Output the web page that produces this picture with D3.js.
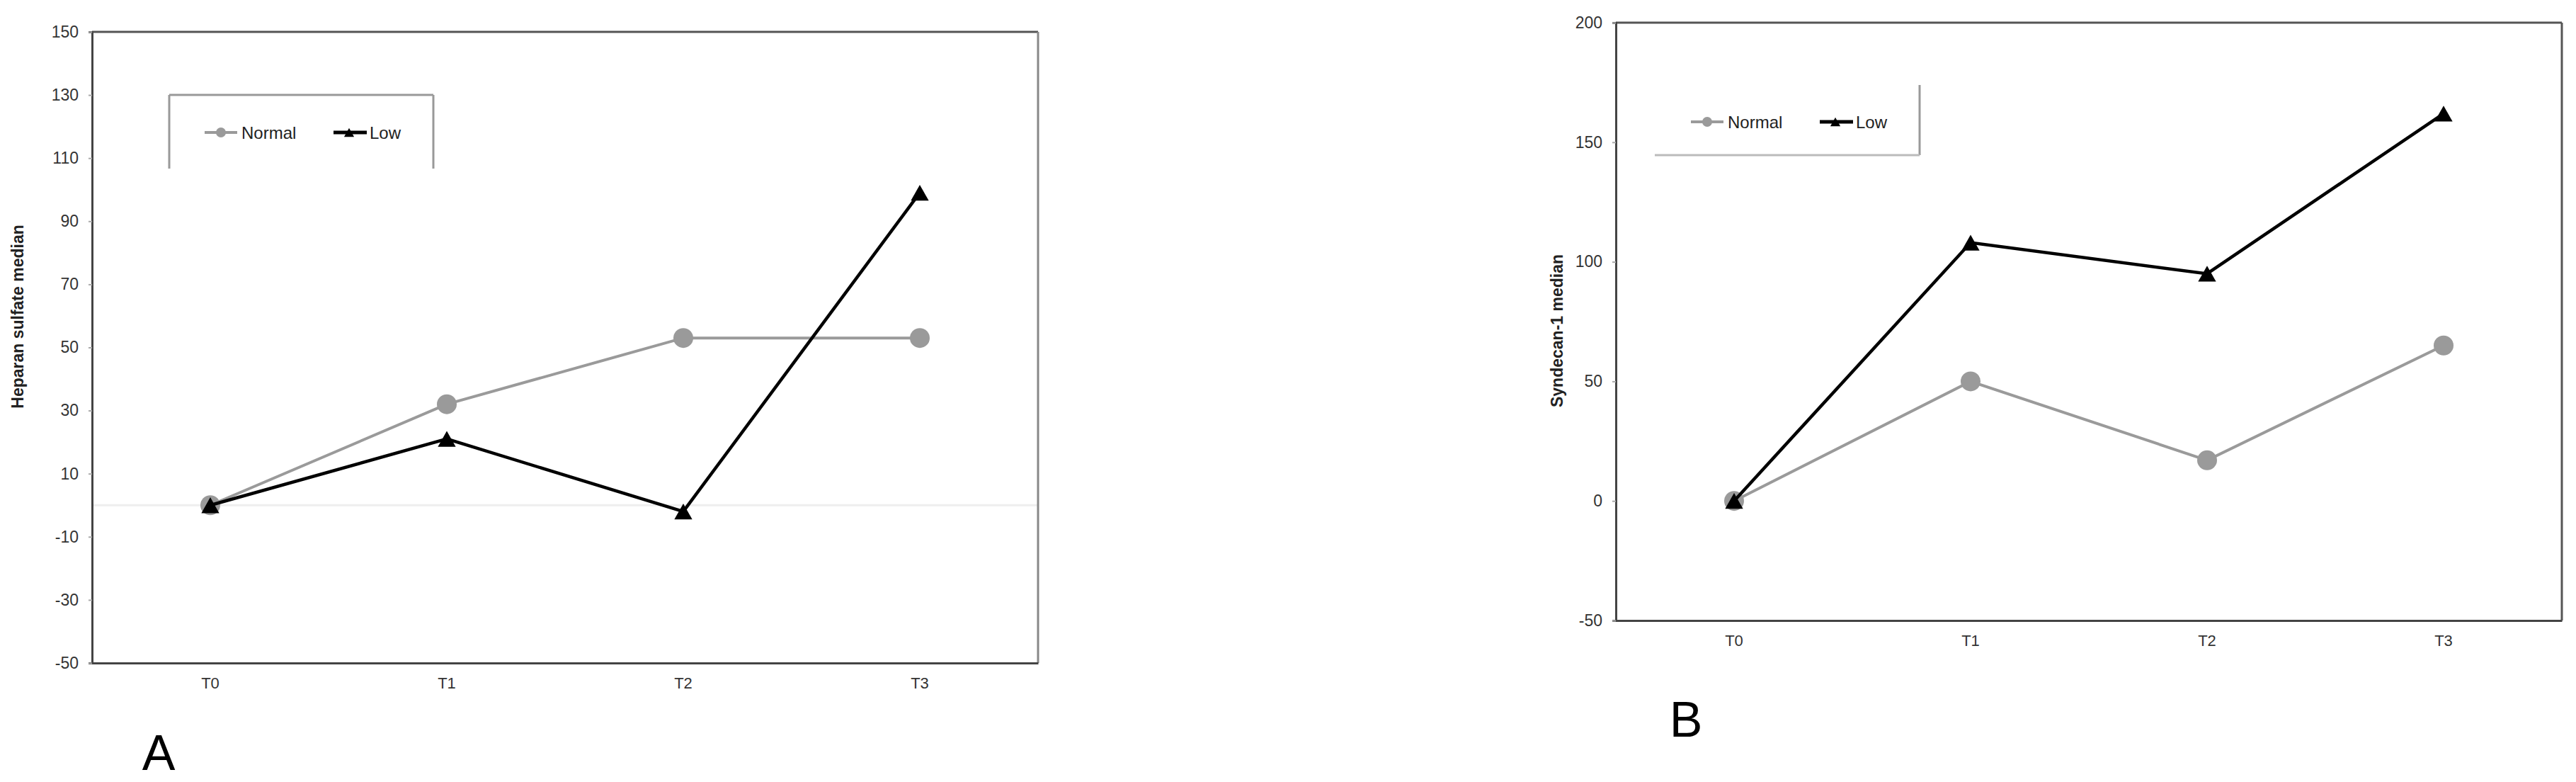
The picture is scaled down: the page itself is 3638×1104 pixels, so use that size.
<!DOCTYPE html>
<html>
<head>
<meta charset="utf-8">
<script src="https://cdn.jsdelivr.net/npm/d3@7"></script>
<style>
  html, body { margin: 0; padding: 0; background: #fff; }
  svg { display: block; }
  text { font-family: "Liberation Sans", Arial, sans-serif; }
</style>
</head>
<body>
<svg id="chart" width="3638" height="1104"></svg>
<script>
// ---- data ----
const categories = ["T0", "T1", "T2", "T3"];
const seriesNames = ["Normal", "Low"];
const heparanNormal = [0, 32, 53, 53];
const heparanLow = [0, 21, -2, 99];
const syndecanNormal = [0, 50, 17, 65];
const syndecanLow = [0, 108, 95, 162];
const heparanTicks = [-50, -30, -10, 10, 30, 50, 70, 90, 110, 130, 150];
const syndecanTicks = [-50, 0, 50, 100, 150, 200];

const svg = d3.select("#chart");

const NORMAL_COLOR = "#9a9a9a";
const LOW_COLOR = "#000000";

// bbox-centred triangle symbol
const triangleBox = {
  draw(ctx, size) {
    const w = Math.sqrt(size);
    const h = w * 0.88;
    ctx.moveTo(0, -h / 2);
    ctx.lineTo(w / 2, h / 2);
    ctx.lineTo(-w / 2, h / 2);
    ctx.closePath();
  }
};

function panel(cfg) {
  const g = svg.append("g");
  const x = d3.scaleBand().domain(categories).range([cfg.left, cfg.right]);
  const y = d3.scaleLinear().domain(cfg.domain).range([cfg.bottom, cfg.top]);
  const cx = c => x(c) + x.bandwidth() / 2;

  if (cfg.zeroLine) {
    g.append("line")
      .attr("x1", cfg.left).attr("x2", cfg.right)
      .attr("y1", y(0)).attr("y2", y(0))
      .attr("stroke", "#eeeeee").attr("stroke-width", 3);
  }

  // frame: top and right
  g.append("line").attr("x1", cfg.left).attr("x2", cfg.right)
    .attr("y1", cfg.top).attr("y2", cfg.top)
    .attr("stroke", "#555").attr("stroke-width", 3);
  g.append("line").attr("x1", cfg.right).attr("x2", cfg.right)
    .attr("y1", cfg.top).attr("y2", cfg.bottom)
    .attr("stroke", cfg.rightColor).attr("stroke-width", 3);

  // y axis
  const yAxis = d3.axisLeft(y).tickValues(cfg.ticks).tickSize(5).tickPadding(14)
    .tickFormat(d => String(d));
  const ya = g.append("g").attr("transform", `translate(${cfg.left},0)`).call(yAxis);
  ya.select(".domain").attr("stroke", "#444").attr("stroke-width", 3);
  ya.selectAll(".tick line").attr("stroke", "#aaa").attr("stroke-width", 2);
  ya.selectAll(".tick text").attr("font-size", 23).attr("fill", "#333")
    .attr("font-family", "Liberation Sans, Arial, sans-serif");

  // x axis
  const xAxis = d3.axisBottom(x).tickSize(0).tickPadding(20);
  const xa = g.append("g").attr("transform", `translate(0,${cfg.bottom})`).call(xAxis);
  xa.select(".domain").attr("stroke", "#444").attr("stroke-width", 3);
  xa.selectAll(".tick text").attr("font-size", 22).attr("fill", "#333")
    .attr("font-family", "Liberation Sans, Arial, sans-serif");

  // y title
  g.append("text")
    .attr("transform", `translate(${cfg.titleX},${cfg.titleY}) rotate(-90)`)
    .attr("text-anchor", "middle")
    .attr("font-size", 23).attr("font-weight", "bold").attr("fill", "#222")
    .text(cfg.title);

  const line = d3.line().x((d, i) => cx(categories[i])).y(d => y(d));

  // Normal series
  g.append("path").datum(cfg.normal).attr("d", line)
    .attr("fill", "none").attr("stroke", NORMAL_COLOR).attr("stroke-width", 4);
  g.selectAll(".nm").data(cfg.normal).join("circle")
    .attr("cx", (d, i) => cx(categories[i])).attr("cy", d => y(d))
    .attr("r", 14).attr("fill", NORMAL_COLOR);

  // Low series
  g.append("path").datum(cfg.low).attr("d", line)
    .attr("fill", "none").attr("stroke", LOW_COLOR).attr("stroke-width", 4.5);
  g.selectAll(".lm").data(cfg.low).join("path")
    .attr("transform", (d, i) => `translate(${cx(categories[i])},${y(d)})`)
    .attr("d", d3.symbol(triangleBox, 640)())
    .attr("fill", LOW_COLOR);

  // legend box
  const L = cfg.legend;
  if (L.sides.includes("top")) g.append("line").attr("x1", L.x0).attr("x2", L.x1).attr("y1", L.y0).attr("y2", L.y0).attr("stroke", "#999").attr("stroke-width", 3);
  if (L.sides.includes("left")) g.append("line").attr("x1", L.x0).attr("x2", L.x0).attr("y1", L.y0).attr("y2", L.y1).attr("stroke", "#999").attr("stroke-width", 3);
  if (L.sides.includes("right")) g.append("line").attr("x1", L.x1).attr("x2", L.x1).attr("y1", L.y0).attr("y2", L.y1).attr("stroke", "#999").attr("stroke-width", 3);
  if (L.sides.includes("bottom")) g.append("line").attr("x1", L.x0).attr("x2", L.x1).attr("y1", L.y1).attr("y2", L.y1).attr("stroke", "#bbb").attr("stroke-width", 3);

  // legend items
  const ly = L.cy;
  g.append("line").attr("x1", L.nx).attr("x2", L.nx + 46).attr("y1", ly).attr("y2", ly)
    .attr("stroke", NORMAL_COLOR).attr("stroke-width", 4);
  g.append("circle").attr("cx", L.nx + 23).attr("cy", ly).attr("r", 7).attr("fill", NORMAL_COLOR);
  g.append("text").attr("x", L.nx + 52).attr("y", ly + 9).attr("font-size", 24).attr("fill", "#222")
    .text(seriesNames[0]);
  g.append("line").attr("x1", L.lx).attr("x2", L.lx + 47).attr("y1", ly).attr("y2", ly)
    .attr("stroke", LOW_COLOR).attr("stroke-width", 5);
  g.append("path").attr("transform", `translate(${L.lx + 22},${ly})`)
    .attr("d", d3.symbol(triangleBox, 200)()).attr("fill", LOW_COLOR);
  g.append("text").attr("x", L.lx + 51).attr("y", ly + 9).attr("font-size", 24).attr("fill", "#222")
    .text(seriesNames[1]);

  // panel letter
  g.append("text").attr("x", cfg.letterX).attr("y", cfg.letterY)
    .attr("text-anchor", "middle").attr("font-size", 70).attr("fill", "#000")
    .text(cfg.letter);
}

panel({
  left: 130, right: 1466, top: 45, bottom: 936,
  domain: [-50, 150], ticks: heparanTicks,
  normal: heparanNormal, low: heparanLow,
  title: "Heparan sulfate median", titleX: 33, titleY: 447,
  rightColor: "#888", zeroLine: true,
  legend: { x0: 239, x1: 612, y0: 134, y1: 238, sides: ["top", "left", "right"], cy: 187, nx: 289, lx: 471 },
  letter: "A", letterX: 224, letterY: 1087
});

panel({
  left: 2282, right: 3618, top: 32, bottom: 876,
  domain: [-50, 200], ticks: syndecanTicks,
  normal: syndecanNormal, low: syndecanLow,
  title: "Syndecan-1 median", titleX: 2207, titleY: 467,
  rightColor: "#555", zeroLine: false,
  legend: { x0: 2337, x1: 2711, y0: 120, y1: 219, sides: ["right", "bottom"], cy: 172, nx: 2388, lx: 2570 },
  letter: "B", letterX: 2381, letterY: 1040
});
</script>
</body>
</html>
